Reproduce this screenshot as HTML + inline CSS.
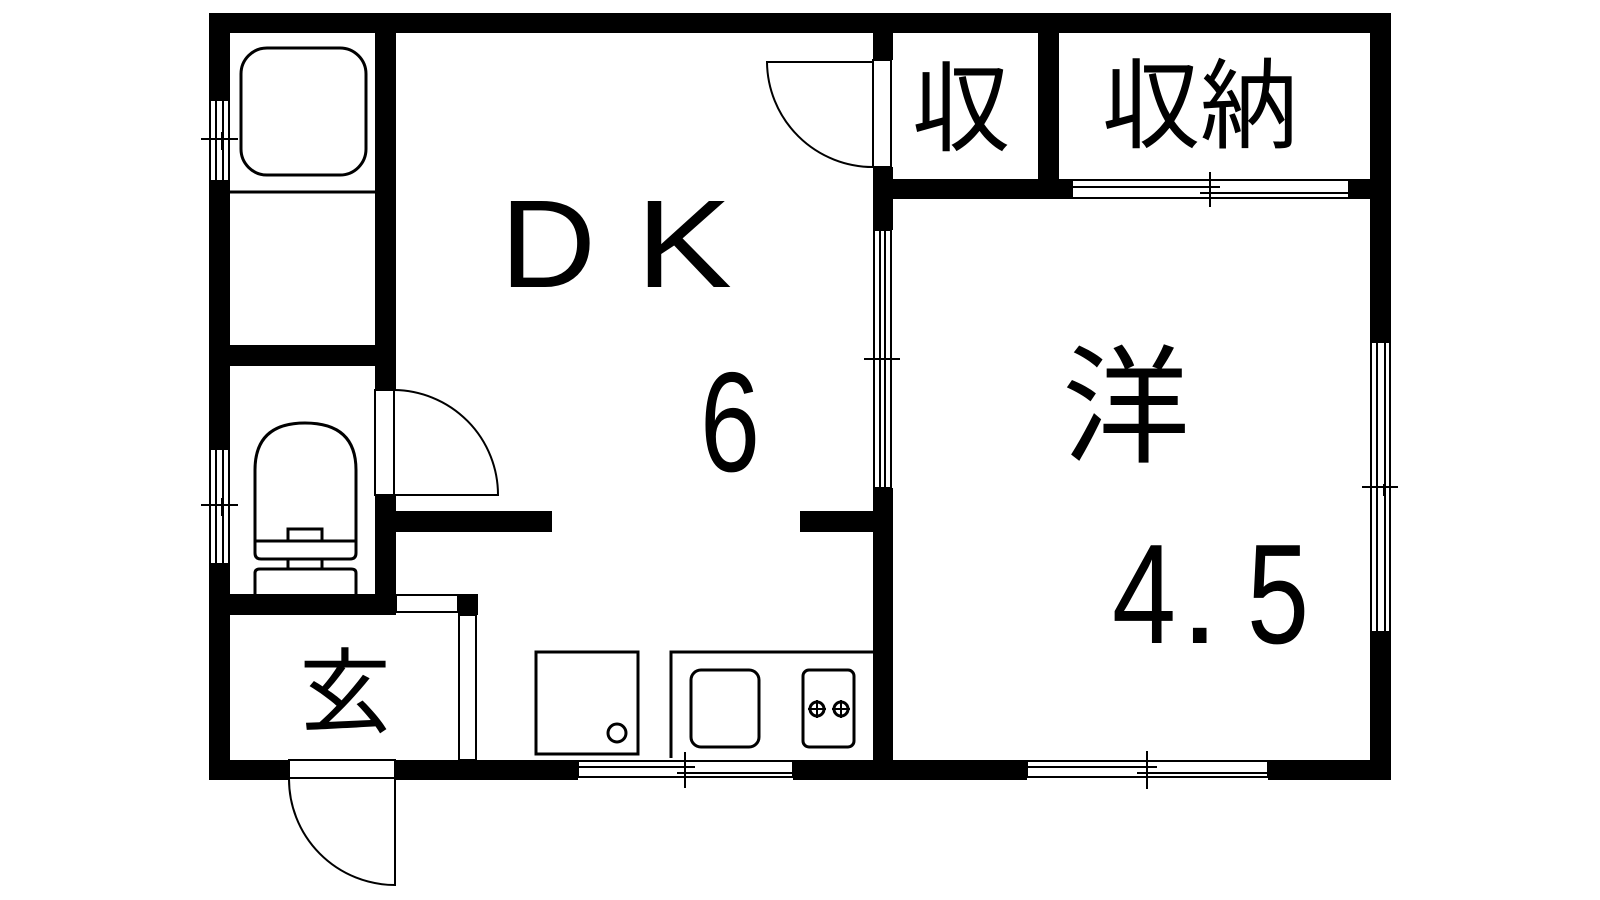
<!DOCTYPE html>
<html><head><meta charset="utf-8"><style>
html,body{margin:0;padding:0;background:#fff;width:1600px;height:900px;overflow:hidden}
svg{display:block}
text{font-family:"Liberation Sans","Noto Sans CJK JP",sans-serif;fill:#000}
</style></head><body>
<svg width="1600" height="900" viewBox="0 0 1600 900" xmlns="http://www.w3.org/2000/svg">
<g fill="#000">
<rect x="209" y="13" width="1182" height="20"/>
<rect x="209" y="13" width="21" height="87"/>
<rect x="209" y="181" width="21" height="268"/>
<rect x="209" y="564" width="21" height="216"/>
<rect x="1370" y="13" width="21" height="329"/>
<rect x="1370" y="632" width="21" height="148"/>
<rect x="209" y="760" width="80" height="20"/>
<rect x="396" y="760" width="182" height="20"/>
<rect x="793" y="760" width="234" height="20"/>
<rect x="1268" y="760" width="123" height="20"/>
<rect x="375" y="33" width="21" height="357"/>
<rect x="375" y="495" width="21" height="120"/>
<rect x="209" y="345" width="187" height="21"/>
<rect x="209" y="594" width="187" height="21"/>
<rect x="458" y="594" width="20" height="21"/>
<rect x="396" y="511" width="156" height="21"/>
<rect x="800" y="511" width="93" height="21"/>
<rect x="873" y="33" width="20" height="27"/>
<rect x="873" y="167" width="20" height="63"/>
<rect x="873" y="488" width="20" height="272"/>
<rect x="873" y="179" width="199" height="20"/>
<rect x="1038" y="33" width="21" height="150"/>
<rect x="1349" y="179" width="21" height="20"/>
</g>
<g fill="none" stroke="#000" stroke-width="3">
<rect x="241" y="48" width="125" height="127" rx="26"/>
<line x1="230" y1="192" x2="375" y2="192"/>
<path d="M255 541 V470 Q255 423 305 423 Q356 423 356 470 V541 Z"/>
<path d="M255 541 H288 V529 H322 V541 H356 V553 Q356 559 350 559 H261 Q255 559 255 553 Z"/>
<rect x="288" y="559" width="34" height="10"/>
<path d="M255 594 V573 Q255 569 260 569 H351 Q356 569 356 573 V594"/>
<rect x="536" y="652" width="102" height="102"/>
<circle cx="617" cy="733" r="9"/>
<path d="M671 758 V652 H873"/>
<rect x="691" y="670" width="68" height="77" rx="10"/>
<rect x="803" y="670" width="51" height="77" rx="6"/>
<circle cx="817" cy="709" r="7"/>
<circle cx="841" cy="709" r="7"/>
</g>
<g stroke="#000" stroke-width="2" fill="none">
<line x1="808" y1="709" x2="826" y2="709"/><line x1="817" y1="700" x2="817" y2="718"/>
<line x1="832" y1="709" x2="850" y2="709"/><line x1="841" y1="700" x2="841" y2="718"/>
<rect x="375" y="390" width="19" height="105"/>
<path d="M394 390 A105 105 0 0 1 498 495 H394"/>
<rect x="873" y="60" width="18" height="107"/>
<path d="M873 62 H767 A106 106 0 0 0 873 167"/>
<rect x="289" y="760" width="106" height="18"/>
<path d="M395 778 V885 A106 106 0 0 1 289 778"/>
<rect x="396" y="595" width="62" height="17"/>
<rect x="459" y="615" width="17" height="145"/>
<rect x="210" y="100" width="19" height="81"/>
<line x1="216" y1="100" x2="216" y2="181"/><line x1="223" y1="100" x2="223" y2="181"/>
<line x1="201" y1="139" x2="238" y2="139"/><line x1="216" y1="129" x2="216" y2="150"/><line x1="222" y1="132" x2="222" y2="150"/>
<rect x="210" y="449" width="19" height="115"/>
<line x1="216" y1="449" x2="216" y2="564"/><line x1="223" y1="449" x2="223" y2="564"/>
<line x1="201" y1="505" x2="238" y2="505"/><line x1="216" y1="496" x2="216" y2="515"/><line x1="222" y1="498" x2="222" y2="516"/>
<rect x="874" y="230" width="17" height="258"/>
<line x1="880" y1="230" x2="880" y2="488"/><line x1="885" y1="230" x2="885" y2="488"/>
<line x1="864" y1="359" x2="900" y2="359"/><line x1="880" y1="350" x2="880" y2="370"/><line x1="885" y1="355" x2="885" y2="370"/>
<rect x="1072" y="180" width="277" height="18"/>
<line x1="1072" y1="187" x2="1220" y2="187"/><line x1="1200" y1="193" x2="1349" y2="193"/>
<line x1="1210" y1="172" x2="1210" y2="207"/>
<rect x="1371" y="342" width="19" height="290"/>
<line x1="1377" y1="342" x2="1377" y2="632"/><line x1="1385" y1="342" x2="1385" y2="632"/>
<line x1="1362" y1="487" x2="1398" y2="487"/><line x1="1377" y1="478" x2="1377" y2="497"/><line x1="1384" y1="484" x2="1384" y2="496"/>
<rect x="578" y="761" width="215" height="16"/>
<line x1="578" y1="767" x2="695" y2="767"/><line x1="677" y1="773" x2="793" y2="773"/>
<line x1="685" y1="752" x2="685" y2="788"/>
<rect x="1027" y="761" width="241" height="16"/>
<line x1="1027" y1="767" x2="1157" y2="767"/><line x1="1137" y1="773" x2="1268" y2="773"/>
<line x1="1147" y1="751" x2="1147" y2="789"/>
</g>
<text x="500" y="287" font-size="125" textLength="96" lengthAdjust="spacingAndGlyphs">D</text>
<text x="636" y="287" font-size="125" textLength="96" lengthAdjust="spacingAndGlyphs">K</text>
<text x="700" y="471" font-size="142" textLength="60" lengthAdjust="spacingAndGlyphs">6</text>
<text x="1112" y="643" font-size="142" textLength="64" lengthAdjust="spacingAndGlyphs">4</text>
<text x="1180" y="643" font-size="142">.</text>
<text x="1247" y="643" font-size="142" textLength="62" lengthAdjust="spacingAndGlyphs">5</text>
<text x="1062" y="452" font-size="128">洋</text>
<text x="912" y="143" font-size="98">収</text>
<text x="1102" y="140" font-size="98">収納</text>
<text x="299" y="725" font-size="92">玄</text>
</svg>
</body></html>
